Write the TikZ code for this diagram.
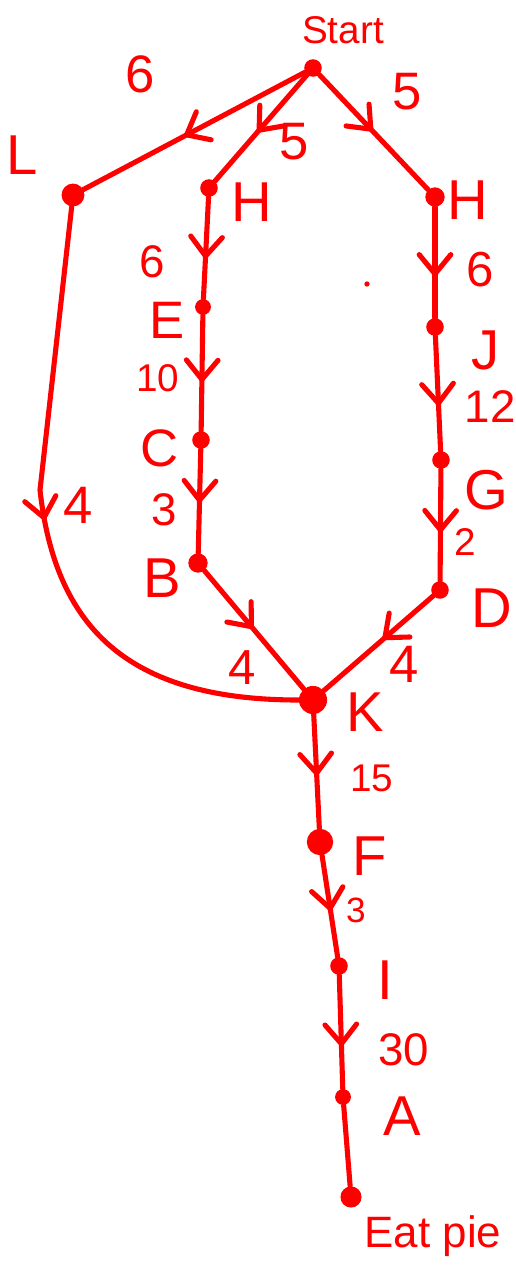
\documentclass[tikz,border=0pt]{standalone}
\usepackage{fontspec}
\setmainfont{Liberation Sans}
\usetikzlibrary{arrows.meta,decorations.markings}
\definecolor{pen}{RGB}{255,0,0}
\tikzset{
  pdot/.style={circle,fill=pen,inner sep=0pt,minimum size=#1},
  pdot/.default=11pt,
  edge/.style={draw=pen,line width=2.9pt,line cap=round,line join=round},
  midarrow/.style={postaction={decorate},decoration={markings,
     mark=at position #1 with {\arrow{Straight Barb[length=11pt,width=18pt,line width=2.9pt,line cap=round]}}}},
  lbl/.style={text=pen,inner sep=0pt,font=\fontsize{#1}{#1}\selectfont},
  lbl/.default=28pt
}
\begin{document}
\begin{tikzpicture}[x=0.02cm,y=-0.02cm]
\useasboundingbox (0,0) rectangle (515,1277);
% nodes
\node[pdot=10pt] (S) at (313,68) {};
\node[pdot=13pt] (L) at (73,195) {};
\node[pdot=10pt] (M) at (209,188) {};
\node[pdot=11pt] (H) at (435,197) {};
\node[pdot=9pt] (E) at (203,307) {};
\node[pdot=10pt] (C) at (201,440) {};
\node[pdot=11pt] (B) at (198,563) {};
\node[pdot=10pt] (J) at (435,327) {};
\node[pdot=10pt] (G) at (441,460) {};
\node[pdot=10pt] (D) at (440,590) {};
\node[pdot=16pt] (K) at (313,700) {};
\node[pdot=15pt] (F) at (320,842) {};
\node[pdot=10pt] (I) at (339,966) {};
\node[pdot=9pt] (A) at (343,1097) {};
\node[pdot=12pt] (P) at (351,1197) {};
\node[pdot=3pt] (stray) at (367,284) {};
\coordinate (Lbend) at (40,490);
% edges
\draw[edge,midarrow=0.55] (S) -- (L);
\draw[edge,midarrow=0.55] (S) -- (M);
\draw[edge,midarrow=0.5] (S) -- (H);
\draw[edge,midarrow=0.62] (M) -- (E);
\draw[edge,midarrow=0.59] (E) -- (C);
\draw[edge,midarrow=0.53] (C) -- (B);
\draw[edge,midarrow=0.5] (B) -- (K);
\draw[edge,midarrow=0.64] (H) -- (J);
\draw[edge,midarrow=0.62] (J) -- (G);
\draw[edge,midarrow=0.58] (G) -- (D);
\draw[edge,midarrow=0.47] (D) -- (K);
\draw[edge,midarrow=0.55] (K) -- (F);
\draw[edge,midarrow=0.56] (F) -- (I);
\draw[edge,midarrow=0.64] (I) -- (A);
\draw[edge] (A) -- (P);
\draw[edge,midarrow=0.48] (L) -- (Lbend) .. controls (55,625) and (125,700) .. (K);
% node labels
\node[lbl=22pt] (tS) at (343,30) {Start};
\node[lbl=32pt] (tL) at (22,155) {L};
\node[lbl=32pt] (tM) at (252,202) {H};
\node[lbl=32pt] (tH) at (468,200) {H};
\node[lbl=30pt] (tE) at (167,320) {E};
\node[lbl=30pt] (tC) at (160,448) {C};
\node[lbl=32pt] (tB) at (162,578) {B};
\node[lbl=32pt] (tJ) at (486,350) {J};
\node[lbl=32pt] (tG) at (486,490) {G};
\node[lbl=32pt] (tD) at (492,608) {D};
\node[lbl=32pt] (tK) at (365,712) {K};
\node[lbl=32pt] (tF) at (370,856) {F};
\node[lbl=32pt] (tI) at (385,980) {I};
\node[lbl=32pt] (tA) at (402,1116) {A};
\node[lbl=25pt] (tP) at (433,1236) {Eat pie};
% edge labels
\node[lbl=30pt] (w1) at (140,74) {6};
\node[lbl=30pt] (w2) at (294,142) {5};
\node[lbl=30pt] (w3) at (407,92) {5};
\node[lbl=26pt] (w4) at (152,262) {6};
\node[lbl=22pt] (w5) at (158,378) {10};
\node[lbl=26pt] (w6) at (164,510) {3};
\node[lbl=28pt] (w7) at (242,668) {4};
\node[lbl=28pt] (w8) at (480,270) {6};
\node[lbl=26pt] (w9) at (490,407) {12};
\node[lbl=22pt] (w10) at (465,542) {2};
\node[lbl=30pt] (w11) at (404,664) {4};
\node[lbl=30pt] (w12) at (78,505) {4};
\node[lbl=22pt] (w13) at (372,778) {15};
\node[lbl=20pt] (w14) at (356,910) {3};
\node[lbl=26pt] (w15) at (404,1050) {30};
\end{tikzpicture}
\end{document}
